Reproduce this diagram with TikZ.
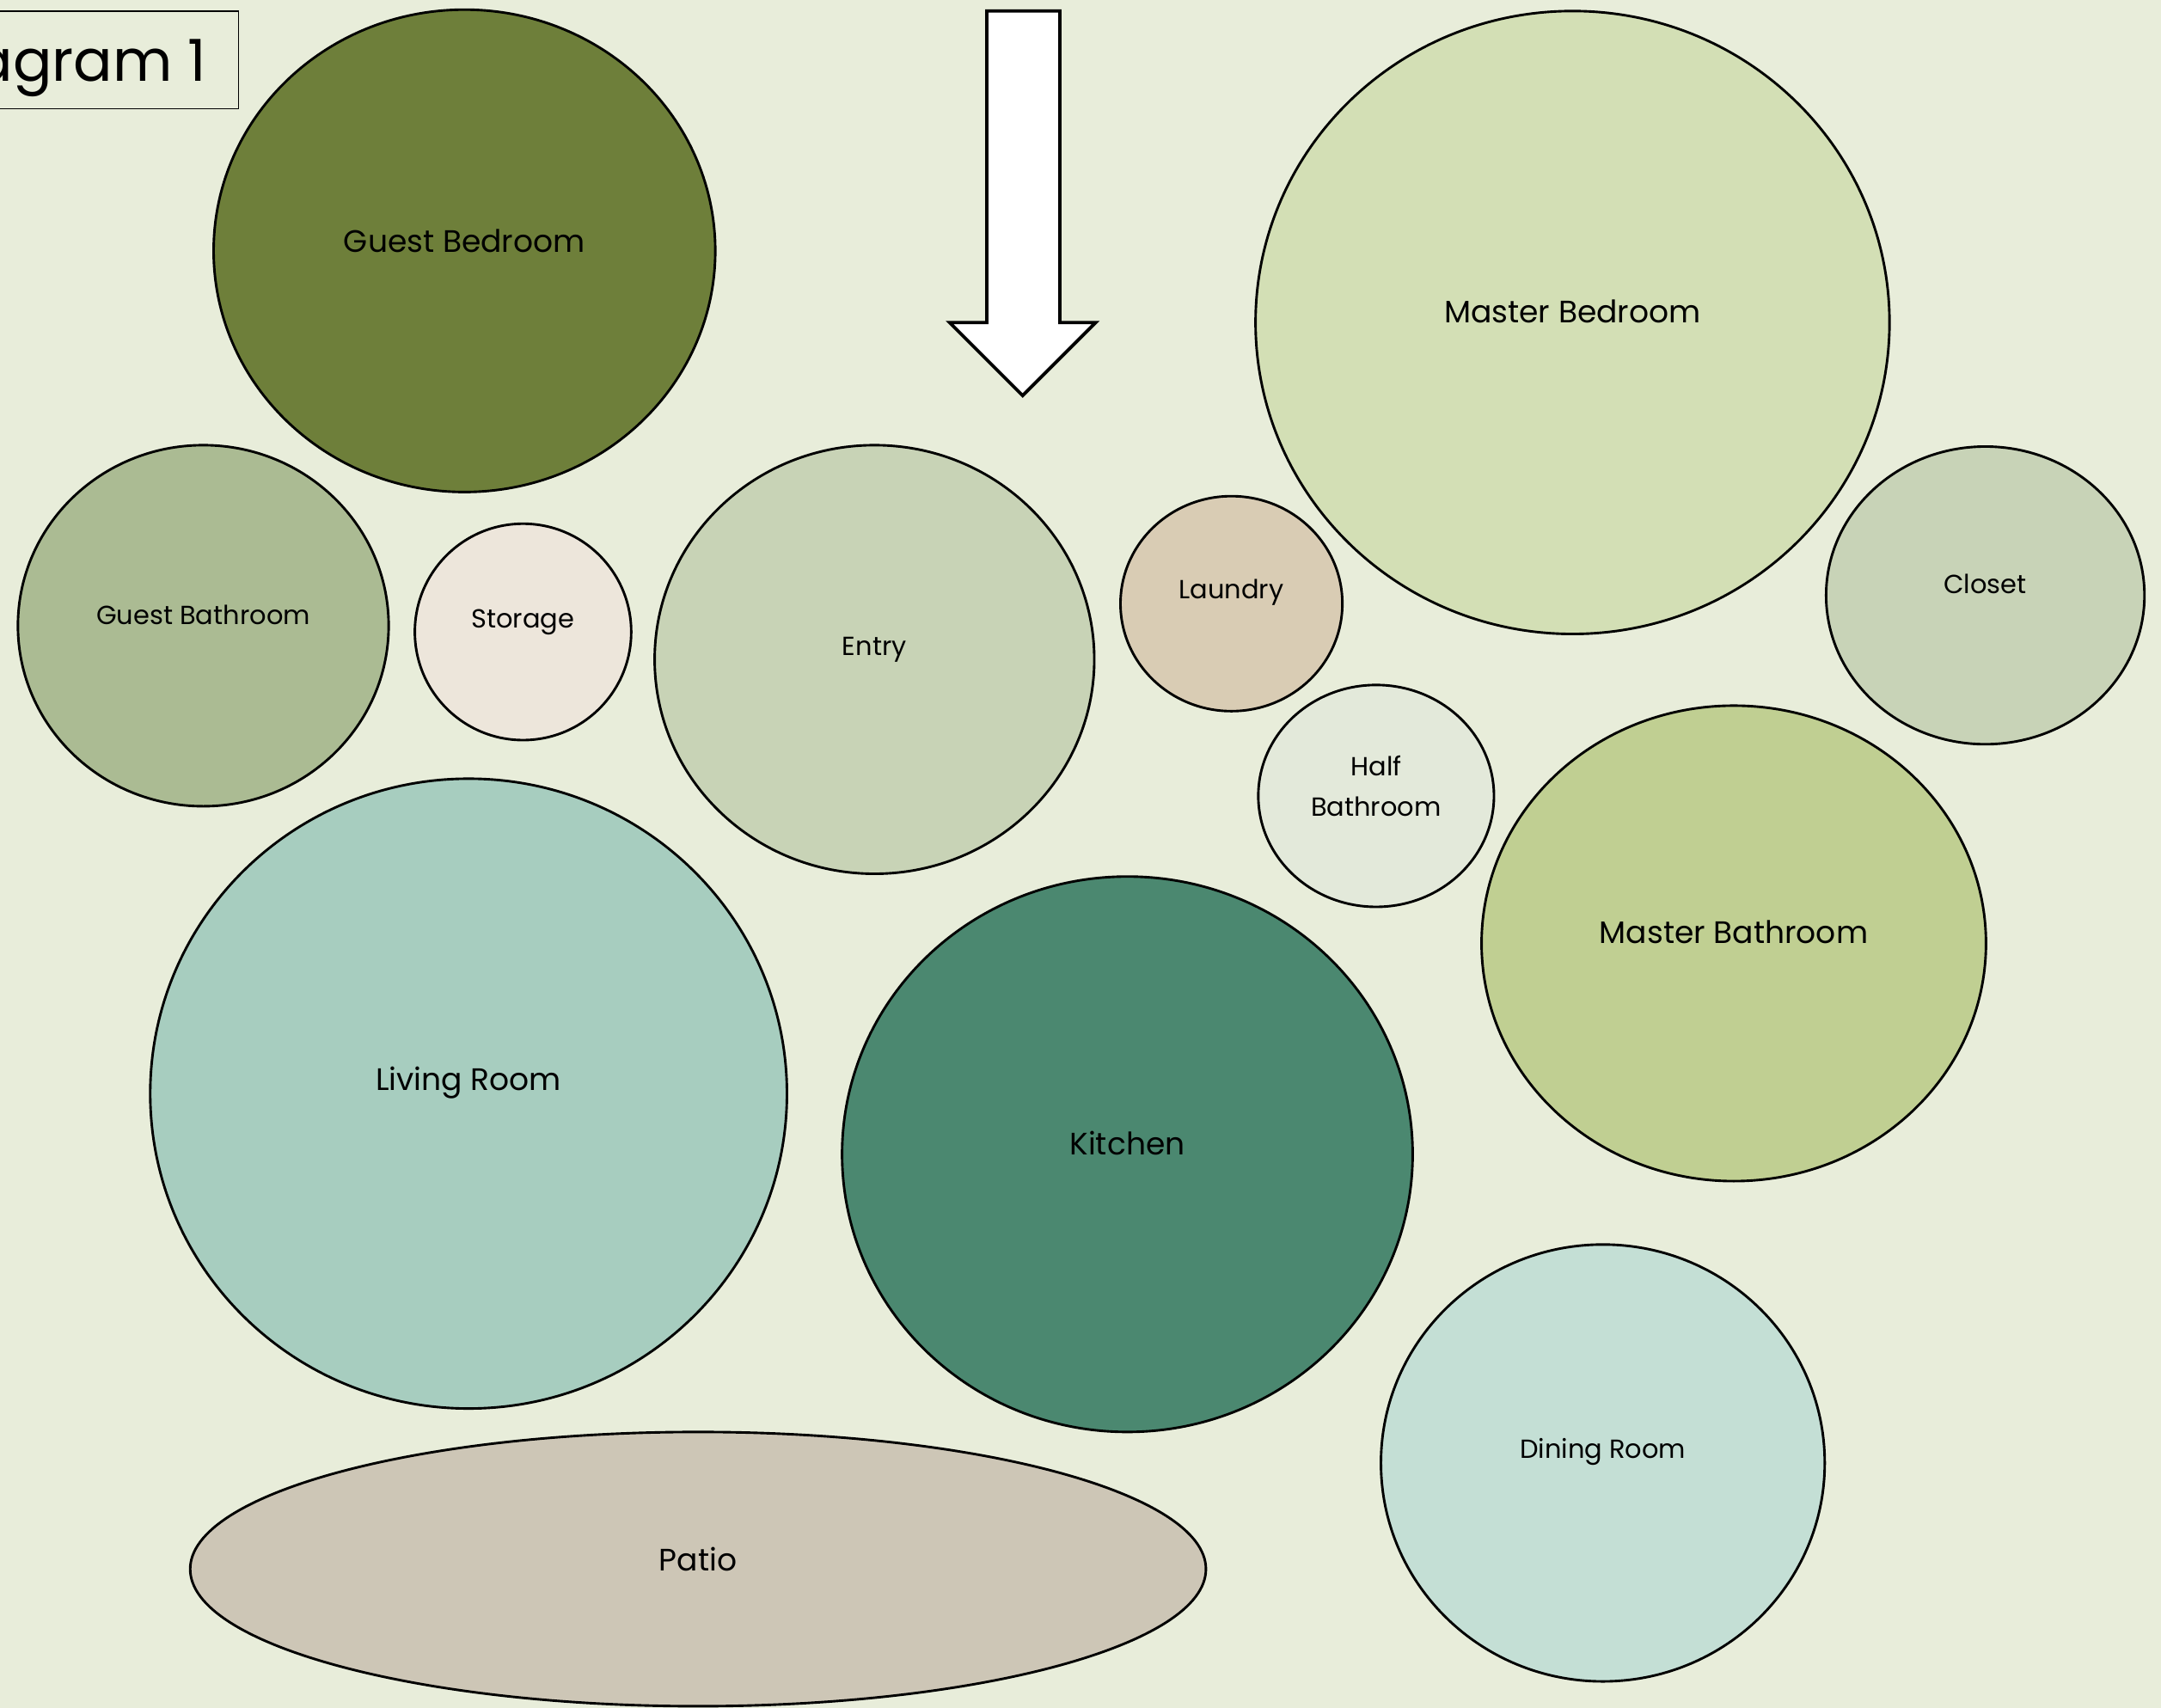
\documentclass[tikz,border=0pt]{standalone}
\usepackage{fontspec}
\setmainfont{Poppins}
\usetikzlibrary{shapes.geometric}
\definecolor{bg}{HTML}{E8EDDA}
\definecolor{cguestbed}{HTML}{6E7F3A}
\definecolor{cmasterbed}{HTML}{D3DFB5}
\definecolor{cguestbath}{HTML}{ABBB93}
\definecolor{cstorage}{HTML}{EDE6DB}
\definecolor{centry}{HTML}{C8D3B6}
\definecolor{claundry}{HTML}{D9CCB4}
\definecolor{ccloset}{HTML}{C8D3B7}
\definecolor{chalfbath}{HTML}{E3E9DA}
\definecolor{cmasterbath}{HTML}{C0CF92}
\definecolor{cliving}{HTML}{A7CDBF}
\definecolor{ckitchen}{HTML}{4B8870}
\definecolor{cdining}{HTML}{C4DFD5}
\definecolor{cpatio}{HTML}{CDC6B6}
\tikzset{
  room/.style={ellipse, draw=black, line width=1.8pt, inner sep=0pt, outer sep=0pt},
  big/.style={font=\fontsize{22.5}{26}\selectfont, text=black},
  small/.style={font=\fontsize{19}{29}\selectfont, text=black},
}
\begin{document}
\begin{tikzpicture}[x=1pt, y=-1pt]
\useasboundingbox (0,0) rectangle (1568,1239);
\fill[bg] (0,0) rectangle (1568,1239);
\clip (0,0) rectangle (1568,1239);
% title
\draw[line width=0.9pt] (-200,8) rectangle (173,79);
\node[anchor=base east, inner sep=0pt, font=\fontsize{42}{48}\selectfont] (title) at (150,59) {Diagram 1};
% entrance arrow
\draw[line width=2.4pt, fill=white, line join=miter] (716,8) -- (769,8) -- (769,234) -- (795,234) -- (742,287) -- (689,234) -- (716,234) -- cycle;
\coordinate (arrowtip) at (742,287);
% rooms
\node[room, fill=cguestbed, minimum width=364pt, minimum height=350pt, label={[big, yshift=7pt]center:Guest Bedroom}] (guestbed) at (337,182) {};
\node[room, fill=cmasterbed, minimum width=460pt, minimum height=452pt, label={[big, yshift=8pt]center:Master Bedroom}] (masterbed) at (1141,234) {};
\node[room, fill=cguestbath, minimum width=269pt, minimum height=262pt, label={[small, yshift=8pt]center:Guest Bathroom}] (guestbath) at (147.5,454) {};
\node[room, fill=cstorage, minimum width=157pt, minimum height=157pt, label={[small, yshift=7pt]center:Storage}] (storage) at (379.5,458.5) {};
\node[room, fill=centry, minimum width=319pt, minimum height=311pt, label={[small, yshift=7pt]center:Entry}] (entry) at (634.5,478.5) {};
\node[room, fill=claundry, minimum width=161pt, minimum height=156pt, label={[small, yshift=8pt]center:Laundry}] (laundry) at (893.5,438) {};
\node[room, fill=ccloset, minimum width=231pt, minimum height=216pt, label={[small, yshift=8pt]center:Closet}] (closet) at (1440.5,432) {};
\node[room, fill=chalfbath, minimum width=171pt, minimum height=161pt, label={[small, align=center, yshift=7pt]center:Half\\Bathroom}] (halfbath) at (998.5,577.5) {};
\node[room, fill=cmasterbath, minimum width=366pt, minimum height=345pt, label={[big, yshift=8pt]center:Master Bathroom}] (masterbath) at (1258,684.5) {};
\node[room, fill=cliving, minimum width=462pt, minimum height=457pt, label={[big, yshift=8pt]center:Living Room}] (living) at (340,793.5) {};
\node[room, fill=ckitchen, minimum width=414pt, minimum height=403pt, label={[big, yshift=8pt]center:Kitchen}] (kitchen) at (818,837.5) {};
\node[room, fill=cdining, minimum width=322pt, minimum height=317pt, label={[small, yshift=8pt]center:Dining Room}] (dining) at (1163,1061.5) {};
\node[room, fill=cpatio, minimum width=737pt, minimum height=199pt, label={[big, yshift=7pt]center:Patio}] (patio) at (506.5,1138.5) {};
\end{tikzpicture}
\end{document}
